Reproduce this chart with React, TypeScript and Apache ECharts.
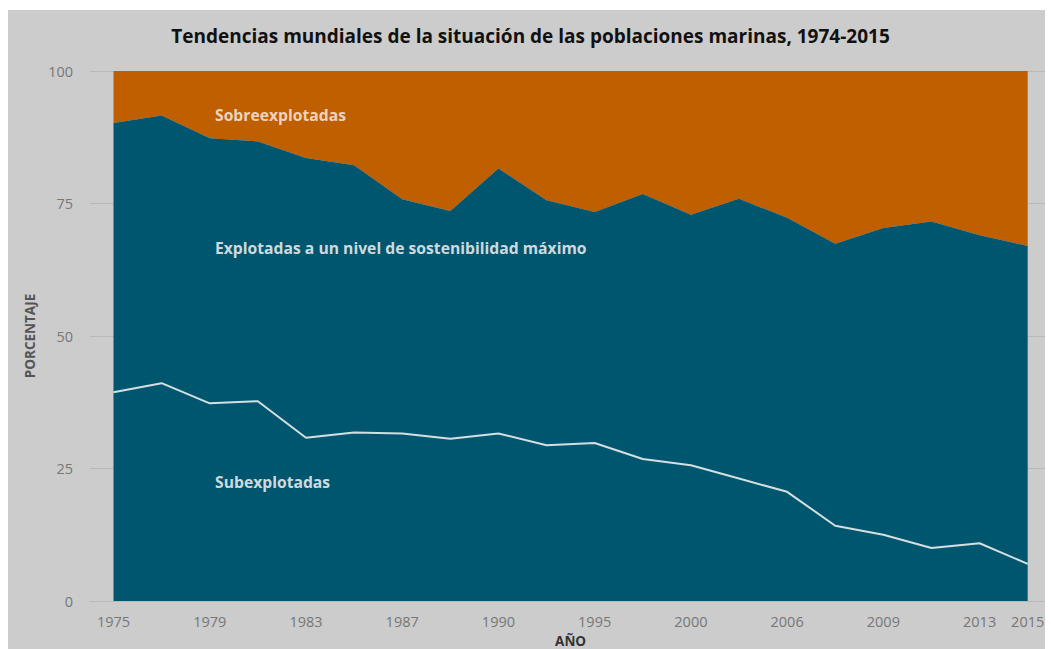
import React, { useEffect, useRef } from "react";
import * as echarts from "echarts";

const years = [
  "1975", "1977", "1979", "1981", "1983", "1985", "1987", "1989", "1990", "1992",
  "1995", "1997", "2000", "2003", "2006", "2008", "2009", "2011", "2013", "2015",
];
const subexplotadas = [
  39.4, 41.1, 37.3, 37.7, 30.8, 31.8, 31.6, 30.6, 31.6, 29.4,
  29.8, 26.8, 25.6, 23.1, 20.6, 14.2, 12.5, 10.0, 10.9, 7.0,
];
const maximo = [
  50.8, 50.5, 50.0, 49.0, 52.8, 50.4, 44.2, 43.0, 50.0, 46.2,
  43.6, 50.0, 47.3, 52.8, 51.7, 53.2, 57.9, 61.6, 58.1, 60.0,
];
const sobreexplotadas = [
  9.8, 8.4, 12.7, 13.3, 16.4, 17.8, 24.2, 26.4, 18.4, 24.4,
  26.6, 23.2, 27.1, 24.1, 27.7, 32.6, 29.6, 28.4, 31.0, 33.0,
];
const yTicks = { min: 0, max: 100, interval: 25 };

const TEAL = "#00566e";
const ORANGE = "#bf5f00";
const FONT = "'Open Sans', 'Noto Sans', sans-serif";

export default function App() {
  const ref = useRef<HTMLDivElement>(null);
  useEffect(() => {
    const chart = echarts.init(ref.current!, null, { renderer: "svg" });
    const last = years.length - 1;
    chart.setOption({
      animation: false,
      backgroundColor: "#cccccc",
      textStyle: { fontFamily: FONT },
      title: {
        text: "Tendencias mundiales de la situación de las poblaciones marinas, 1974-2015",
        left: "center",
        top: 11,
        textStyle: { fontFamily: FONT, fontWeight: "bold", fontSize: 19, color: "#111" },
      },
      grid: [
        { left: 105.5, right: 25.3, top: 61, height: 530, outerBoundsMode: "none" },
        { left: 82, right: 1, top: 61, height: 530, outerBoundsMode: "none" },
      ],
      xAxis: [
        {
          type: "category",
          gridIndex: 0,
          data: years,
          boundaryGap: false,
          axisLine: { show: false },
          axisTick: { show: false },
          axisLabel: {
            interval: (i: number) => i % 2 === 0 || i === last,
            color: "#777",
            fontSize: 14.5,
            margin: 13,
            fontFamily: FONT,
          },
          name: "AÑO",
          nameLocation: "middle",
          nameGap: 31,
          nameTextStyle: { fontFamily: FONT, fontWeight: "bold", fontSize: 13.5, color: "#333" },
        },
        { type: "value", gridIndex: 1, show: false, min: 0, max: 1 },
      ],
      yAxis: [
        { type: "value", gridIndex: 0, ...yTicks, show: false, splitLine: { show: false } },
        {
          type: "value",
          gridIndex: 1,
          ...yTicks,
          axisLine: { show: false },
          axisTick: { show: false },
          splitLine: { lineStyle: { color: "#b9b9b9", width: 1 } },
          axisLabel: { color: "#777", fontSize: 14.5, margin: 17, fontFamily: FONT },
          name: "PORCENTAJE",
          nameLocation: "middle",
          nameRotate: 90,
          nameGap: 52,
          nameTextStyle: { fontFamily: FONT, fontWeight: "bold", fontSize: 13.5, color: "#555" },
        },
      ],
      series: [
        {
          name: "Subexplotadas",
          type: "line",
          xAxisIndex: 0,
          yAxisIndex: 0,
          stack: "total",
          data: subexplotadas,
          showSymbol: false,
          z: 4,
          lineStyle: { color: "#d5dfe2", width: 2 },
          areaStyle: { color: TEAL, opacity: 1 },
        },
        {
          name: "Explotadas a un nivel de sostenibilidad máximo",
          type: "line",
          xAxisIndex: 0,
          yAxisIndex: 0,
          stack: "total",
          data: maximo,
          showSymbol: false,
          z: 3,
          lineStyle: { width: 0 },
          areaStyle: { color: TEAL, opacity: 1 },
        },
        {
          name: "Sobreexplotadas",
          type: "line",
          xAxisIndex: 0,
          yAxisIndex: 0,
          stack: "total",
          data: sobreexplotadas,
          showSymbol: false,
          z: 2,
          lineStyle: { width: 0 },
          areaStyle: { color: ORANGE, opacity: 1 },
        },
      ],
      graphic: [
        {
          type: "text",
          left: 207,
          top: 96.5,
          z: 10,
          style: { text: "Sobreexplotadas", fill: "#ecd3c0", font: `bold 15.7px ${FONT}` },
        },
        {
          type: "text",
          left: 207,
          top: 229.5,
          z: 10,
          style: {
            text: "Explotadas a un nivel de sostenibilidad máximo",
            fill: "#cfdade",
            font: `bold 15.7px ${FONT}`,
          },
        },
        {
          type: "text",
          left: 207,
          top: 463.5,
          z: 10,
          style: { text: "Subexplotadas", fill: "#cfdade", font: `bold 15.7px ${FONT}` },
        },
      ],
    });
    return () => chart.dispose();
  }, []);
  return (
    <div style={{ paddingTop: 2 }}>
      <div ref={ref} style={{ width: 1045, height: 639 }} />
    </div>
  );
}
